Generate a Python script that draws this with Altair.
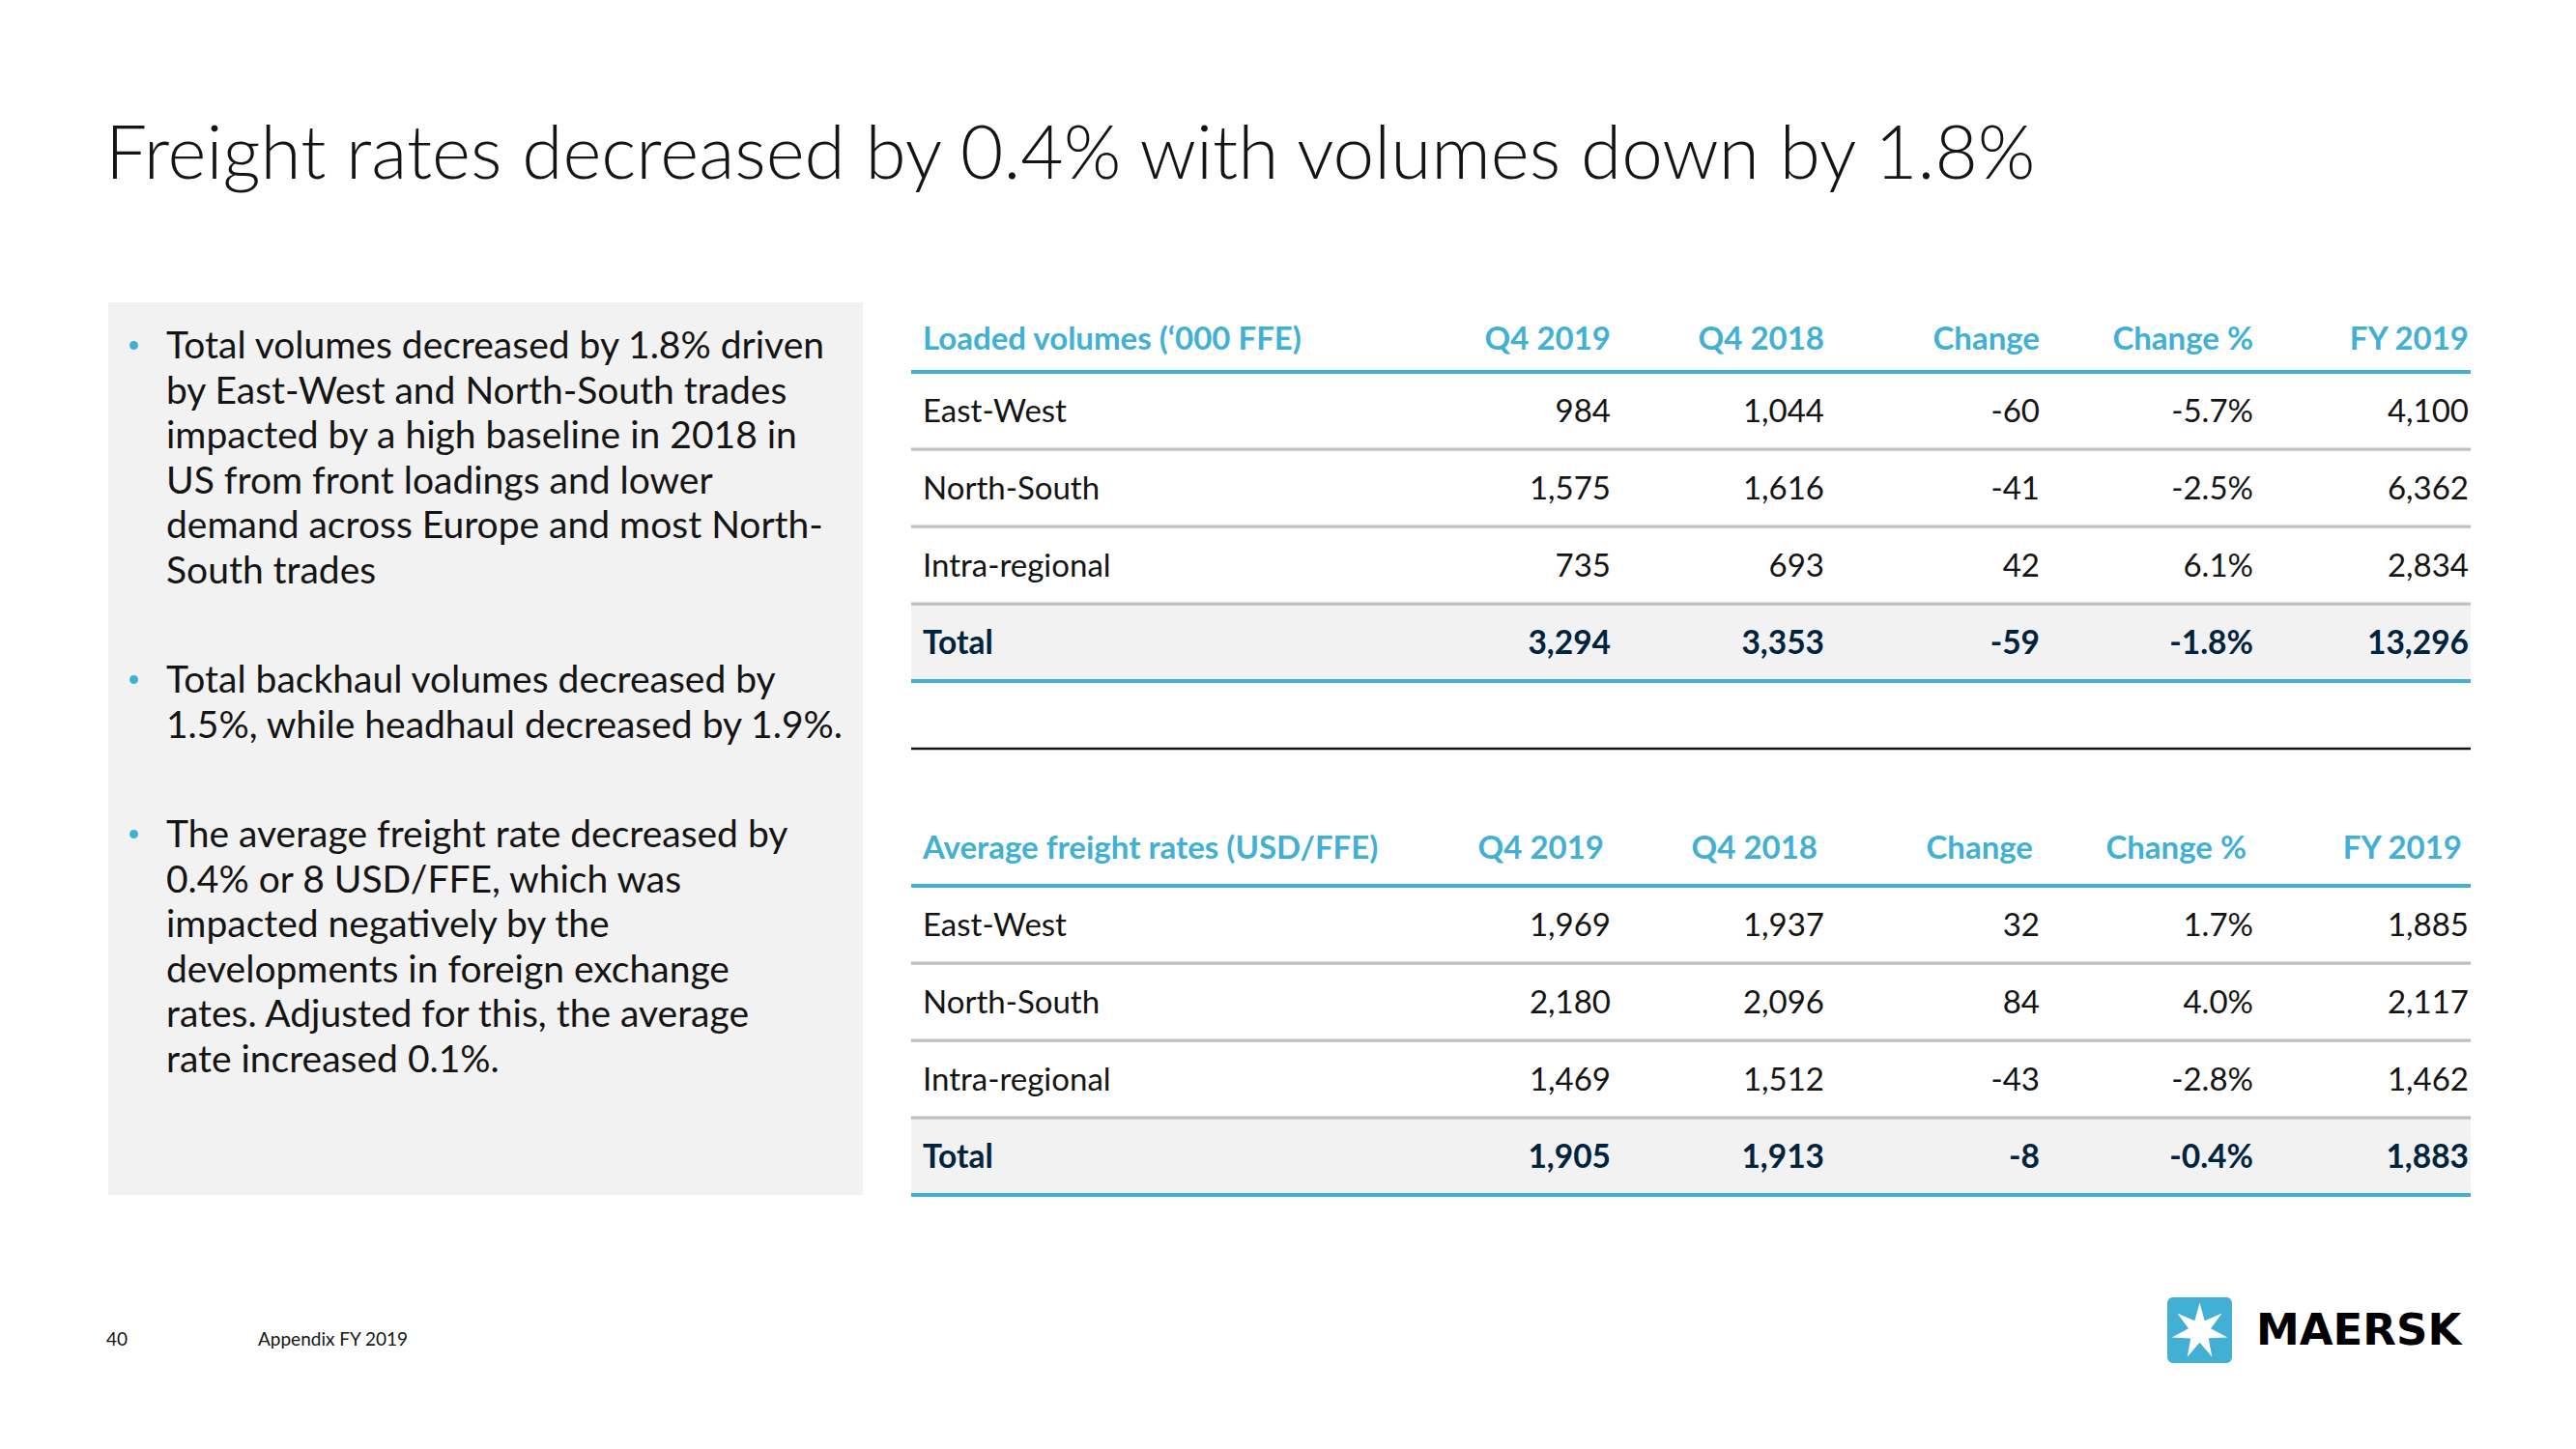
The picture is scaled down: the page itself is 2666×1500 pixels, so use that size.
import altair as alt
import pandas as pd
import numpy as np

# ---------------- data ----------------
title_text = "Freight rates decreased by 0.4% with volumes down by 1.8%"

bullet_1 = ["Total volumes decreased by 1.8% driven",
            "by East-West and North-South trades",
            "impacted by a high baseline in 2018 in",
            "US from front loadings and lower",
            "demand across Europe and most North-",
            "South trades"]
bullet_2 = ["Total backhaul volumes decreased by",
            "1.5%, while headhaul decreased by 1.9%."]
bullet_3 = ["The average freight rate decreased by",
            "0.4% or 8 USD/FFE, which was",
            "impacted negatively by the",
            "developments in foreign exchange",
            "rates. Adjusted for this, the average",
            "rate increased 0.1%."]

table_titles = ["Loaded volumes (‘000 FFE)", "Average freight rates (USD/FFE)"]
row_labels = ["East-West", "North-South", "Intra-regional", "Total"]
col_headers = ["Q4 2019", "Q4 2018", "Change", "Change %", "FY 2019"]

vol_q4_2019 = [984, 1575, 735, 3294]
vol_q4_2018 = [1044, 1616, 693, 3353]
vol_change = [-60, -41, 42, -59]
vol_change_pct = [-5.7, -2.5, 6.1, -1.8]
vol_fy_2019 = [4100, 6362, 2834, 13296]

rate_q4_2019 = [1969, 2180, 1469, 1905]
rate_q4_2018 = [1937, 2096, 1512, 1913]
rate_change = [32, 84, -43, -8]
rate_change_pct = [1.7, 4.0, -2.8, -0.4]
rate_fy_2019 = [1885, 2117, 1462, 1883]

footer_page = "40"
footer_text = "Appendix FY 2019"
brand_name = "MAERSK"

# ---------------- layout / style ----------------
W, H = 2650, 1480
ORG = 8
BLUE = "#42B0D5"
NAVY = "#00243D"
INK = "#141414"
GREYBG = "#F2F2F2"
SEP = "#BFBFBF"
BODY_FONT = "Lato"
TITLE_FONT = "Lato"

col_right = [1667, 1888, 2111, 2332, 2555]
hdr_dx = [0, -7]
tbl_off = [0, 532]
hdr_base = [362, 889]
label_x = 955
line_x0, line_x1 = 943, 2557
row_base0, row_h = 437, 80

xs = alt.Scale(domain=[ORG, ORG + W], nice=False, zero=False)
ys = alt.Scale(domain=[ORG, ORG + H], nice=False, zero=False, reverse=True)


def X(f):
    return alt.X(f, type="quantitative", scale=xs, axis=None)


def Y(f):
    return alt.Y(f, type="quantitative", scale=ys, axis=None)


def fmt_num(v):
    return f"{v:,}"


def fmt_pct(v):
    return f"{v:.1f}%"


tables = [
    [vol_q4_2019, vol_q4_2018, vol_change, vol_change_pct, vol_fy_2019],
    [rate_q4_2019, rate_q4_2018, rate_change, rate_change_pct, rate_fy_2019],
]

cells, labels, headers = [], [], []
for t, cols in enumerate(tables):
    off = tbl_off[t]
    headers.append({"x": label_x, "y": hdr_base[t], "text": table_titles[t], "align": "left"})
    for c, h in enumerate(col_headers):
        headers.append({"x": col_right[c] + hdr_dx[t], "y": hdr_base[t], "text": h, "align": "right"})
    for r, lab in enumerate(row_labels):
        yb = row_base0 + r * row_h + off
        labels.append({"x": label_x, "y": yb, "text": lab, "total": r == 3})
        for c, col in enumerate(cols):
            v = col[r]
            txt = fmt_pct(v) if col_headers[c] == "Change %" else fmt_num(v)
            cells.append({"x": col_right[c], "y": yb, "text": txt, "total": r == 3})

cells = pd.DataFrame(cells)
labels = pd.DataFrame(labels)
headers = pd.DataFrame(headers)

# horizontal rules
rules = []
for t in range(2):
    off = tbl_off[t]
    rules.append({"x": line_x0, "x2": line_x1, "y": 385 + off, "kind": "blue"})
    rules.append({"x": line_x0, "x2": line_x1, "y": 705 + off, "kind": "blue"})
    for r in range(3):
        rules.append({"x": line_x0, "x2": line_x1, "y": 465 + r * row_h + off, "kind": "sep"})
rules.append({"x": line_x0, "x2": line_x1, "y": 775, "kind": "black"})
rules = pd.DataFrame(rules)

rects = pd.DataFrame([
    {"x": 112, "x2": 893, "y": 313, "y2": 1237},          # left panel
    {"x": line_x0, "x2": line_x1, "y": 626, "y2": 704},   # total row 1
    {"x": line_x0, "x2": line_x1, "y": 1158, "y2": 1236},  # total row 2
])

# bullets
bullet_start = [371, 717, 877]
line_h = 46.5
blines, bdots = [], []
for b, lines in enumerate([bullet_1, bullet_2, bullet_3]):
    bdots.append({"x": 138.5, "y": bullet_start[b] - 13.5})
    for i, s in enumerate(lines):
        blines.append({"x": 172, "y": bullet_start[b] + i * line_h, "text": s})
blines = pd.DataFrame(blines)
bdots = pd.DataFrame(bdots)

misc_text = pd.DataFrame([
    {"x": 109, "y": 185, "text": title_text},
])
footer = pd.DataFrame([
    {"x": 110, "y": 1393, "text": footer_page},
    {"x": 267, "y": 1393, "text": footer_text},
])

# logo
n = 7
pts = []
for k in range(2 * n):
    r = 1.0 if k % 2 == 0 else 0.40
    a = -np.pi / 2 + k * np.pi / n
    pts.append(f"{r*np.cos(a):.4f},{r*np.sin(a):.4f}")
star_path = "M" + " L".join(pts) + " Z"
logo_box = pd.DataFrame([{"x": 2243, "x2": 2310, "y": 1343, "y2": 1411}])
logo_star = pd.DataFrame([{"x": 2276.5, "y": 1378}])
logo_word = pd.DataFrame([{"x": 2335, "y": 1392, "text": brand_name}])

# ---------------- layers ----------------
rect_layer = alt.Chart(rects).mark_rect(color=GREYBG).encode(
    x=X("x"), x2="x2", y=Y("y"), y2="y2")

rule_layer = alt.Chart(rules).mark_rule().encode(
    x=X("x"), x2="x2", y=Y("y"),
    color=alt.Color("kind:N", scale=alt.Scale(domain=["blue", "sep", "black"],
                                              range=[BLUE, SEP, INK]), legend=None),
    strokeWidth=alt.StrokeWidth("kind:N", scale=alt.Scale(domain=["blue", "sep", "black"],
                                                          range=[4, 2.5, 2]), legend=None),
)

title_layer = alt.Chart(misc_text).mark_text(
    align="left", baseline="alphabetic", font=TITLE_FONT, fontSize=76.5,
    fontWeight=300, color=INK).encode(x=X("x"), y=Y("y"), text="text:N")

dot_layer = alt.Chart(bdots).mark_circle(size=80, color=BLUE, opacity=1).encode(
    x=X("x"), y=Y("y"))

bullet_layer = alt.Chart(blines).mark_text(
    align="left", baseline="alphabetic", font=BODY_FONT, fontSize=39,
    color=INK).encode(x=X("x"), y=Y("y"), text="text:N")

hdr_left = alt.Chart(headers).transform_filter("datum.align == 'left'").mark_text(
    align="left", baseline="alphabetic", font=BODY_FONT, fontSize=33,
    fontWeight="bold", color=BLUE).encode(x=X("x"), y=Y("y"), text="text:N")
hdr_right = alt.Chart(headers).transform_filter("datum.align == 'right'").mark_text(
    align="right", baseline="alphabetic", font=BODY_FONT, fontSize=33,
    fontWeight="bold", color=BLUE).encode(x=X("x"), y=Y("y"), text="text:N")

lab_reg = alt.Chart(labels).transform_filter("!datum.total").mark_text(
    align="left", baseline="alphabetic", font=BODY_FONT, fontSize=33,
    color=INK).encode(x=X("x"), y=Y("y"), text="text:N")
lab_tot = alt.Chart(labels).transform_filter("datum.total").mark_text(
    align="left", baseline="alphabetic", font=BODY_FONT, fontSize=33.5,
    fontWeight="bold", color=NAVY).encode(x=X("x"), y=Y("y"), text="text:N")

cell_reg = alt.Chart(cells).transform_filter("!datum.total").mark_text(
    align="right", baseline="alphabetic", font=BODY_FONT, fontSize=33,
    color=INK).encode(x=X("x"), y=Y("y"), text="text:N")
cell_tot = alt.Chart(cells).transform_filter("datum.total").mark_text(
    align="right", baseline="alphabetic", font=BODY_FONT, fontSize=33.5,
    fontWeight="bold", color=NAVY).encode(x=X("x"), y=Y("y"), text="text:N")

footer_layer = alt.Chart(footer).mark_text(
    align="left", baseline="alphabetic", font=BODY_FONT, fontSize=19,
    color=INK).encode(x=X("x"), y=Y("y"), text="text:N")

logo_rect = alt.Chart(logo_box).mark_rect(color=BLUE, cornerRadius=6).encode(
    x=X("x"), x2="x2", y=Y("y"), y2="y2")
logo_star_layer = alt.Chart(logo_star).mark_point(
    shape=star_path, filled=True, color="white", opacity=1, size=3500,
    strokeWidth=0).encode(x=X("x"), y=Y("y"))
logo_word_layer = alt.Chart(logo_word).mark_text(
    align="left", baseline="alphabetic", font="DejaVu Sans", fontSize=45,
    fontWeight="bold", color="#000000").encode(x=X("x"), y=Y("y"), text="text:N")

chart = alt.layer(
    rect_layer, rule_layer, title_layer, dot_layer, bullet_layer,
    hdr_left, hdr_right, lab_reg, lab_tot, cell_reg, cell_tot,
    footer_layer, logo_rect, logo_star_layer, logo_word_layer,
).resolve_scale(color="independent", strokeWidth="independent").properties(
    width=W, height=H, autosize=alt.AutoSizeParams(type="none"), padding=0,
    background="white",
).configure_view(stroke=None)

chart.save("out.html", embed_options={"renderer": "svg", "actions": False})
